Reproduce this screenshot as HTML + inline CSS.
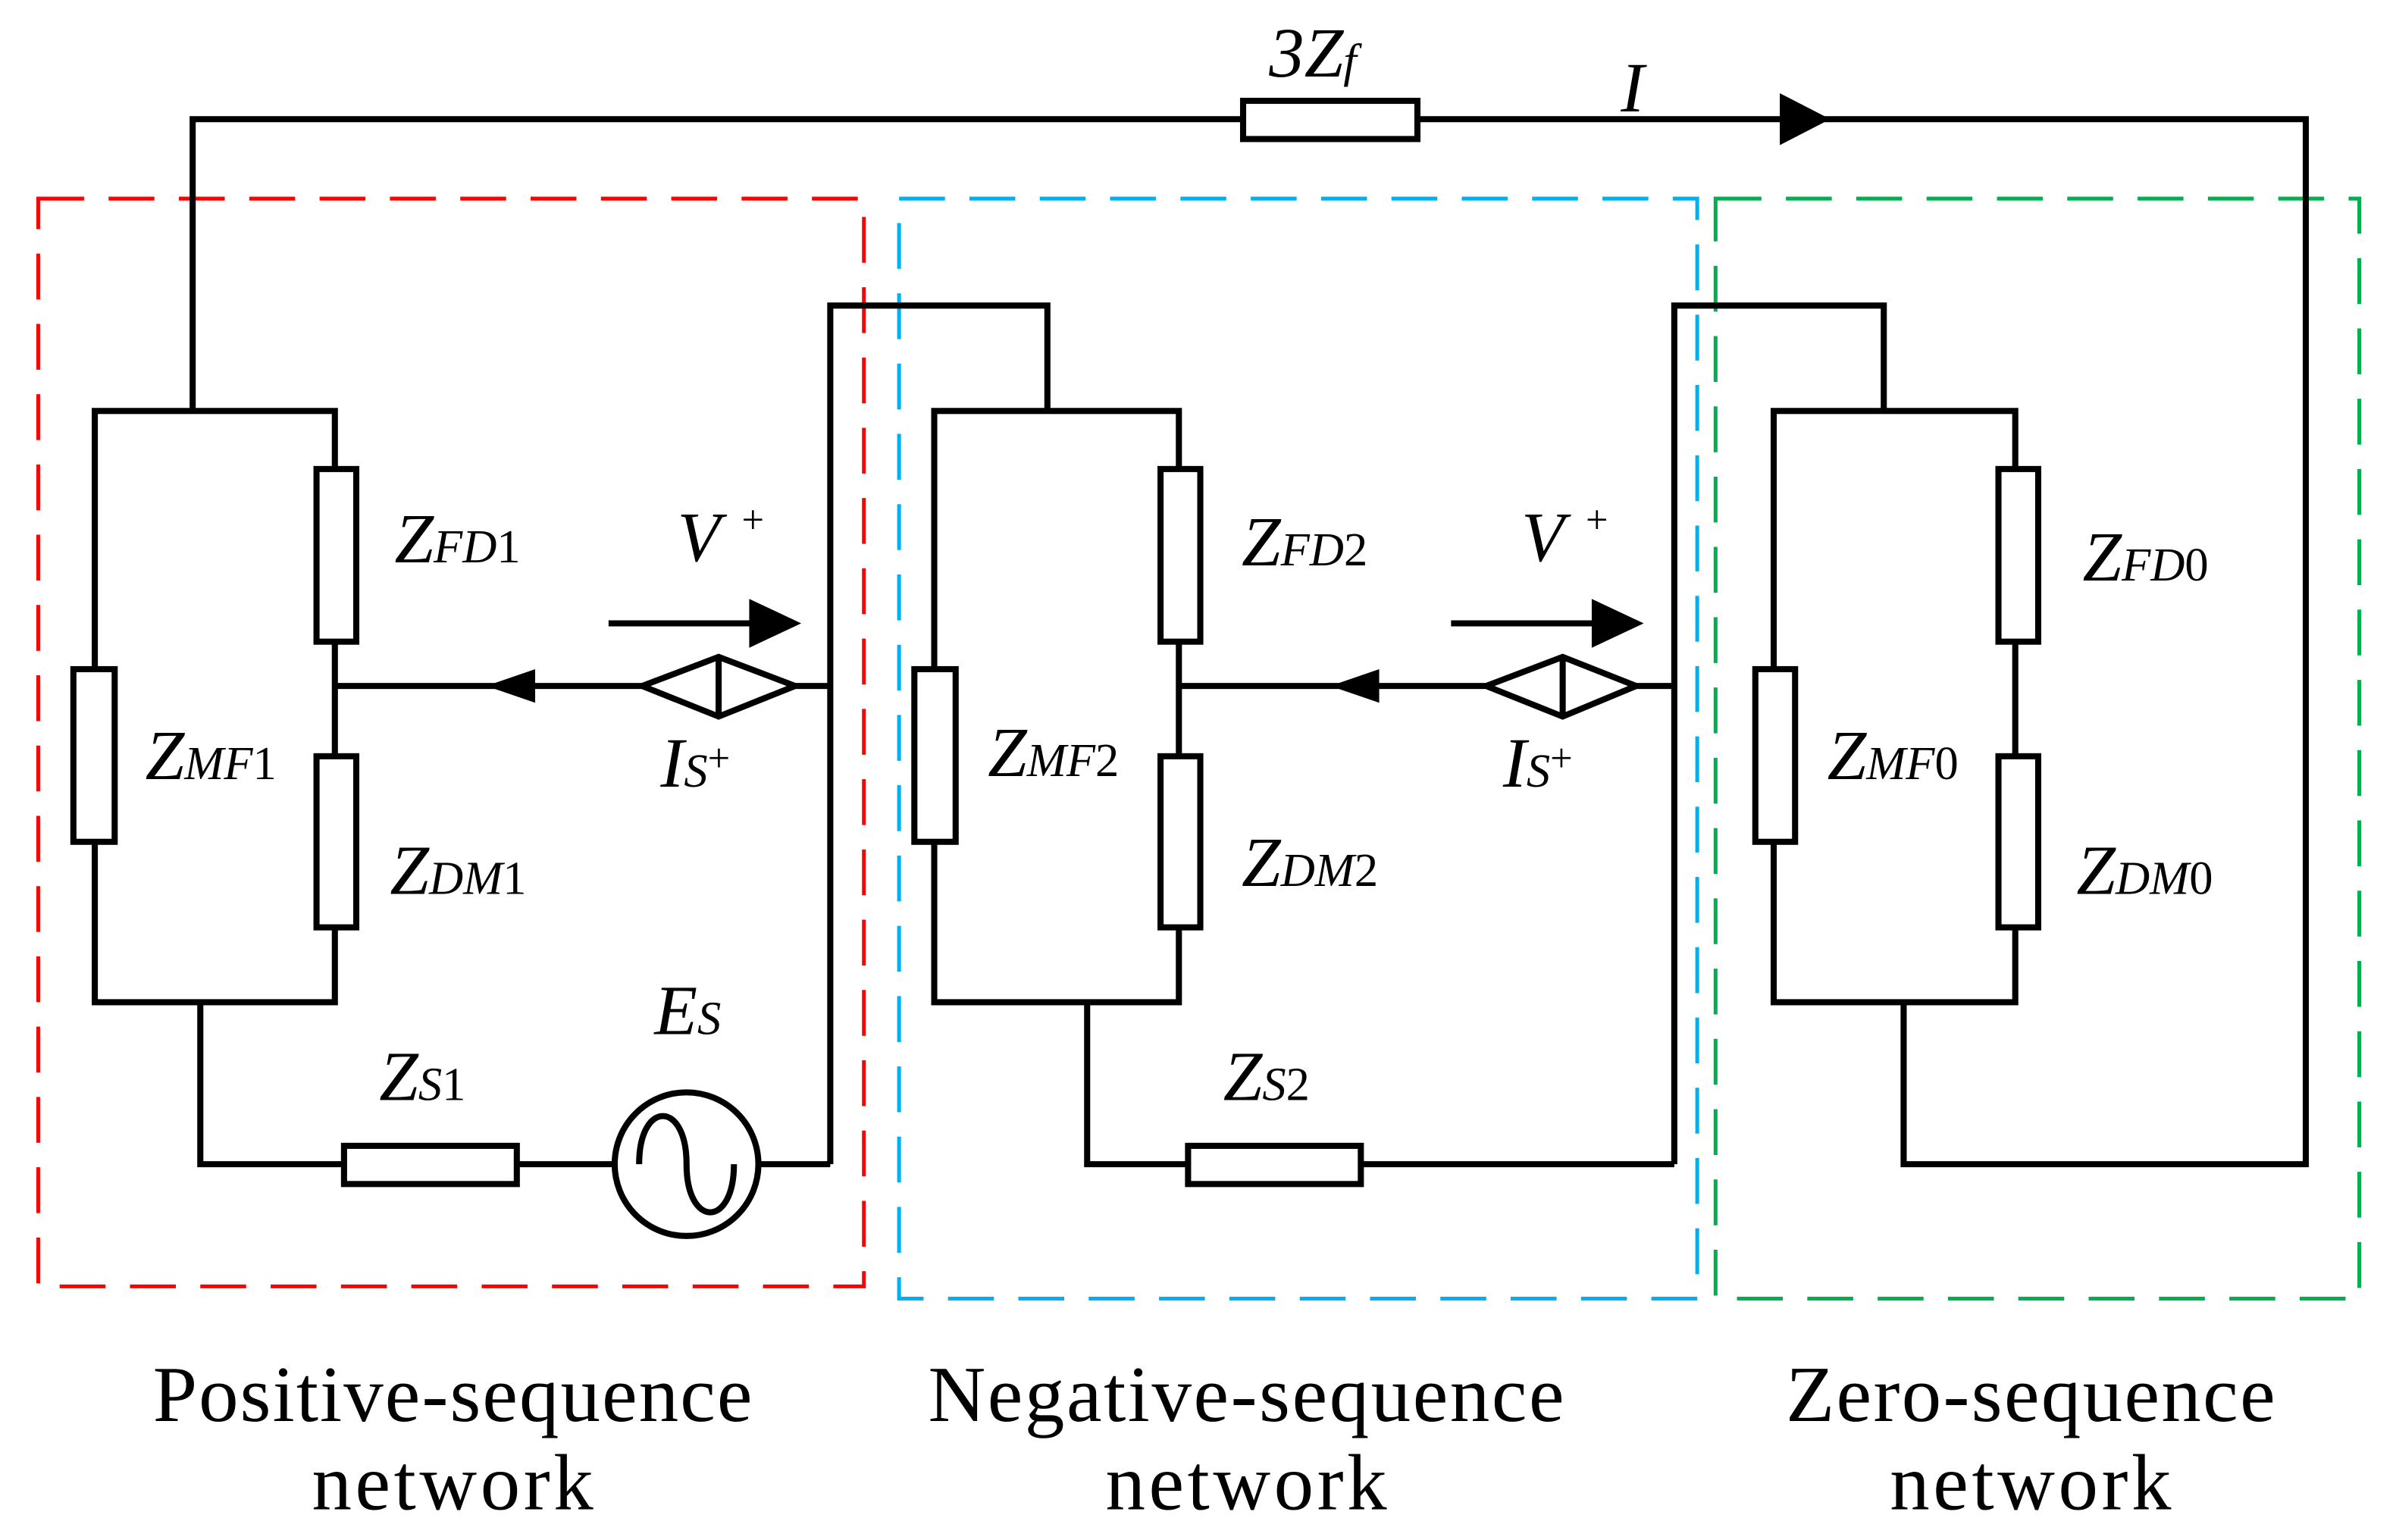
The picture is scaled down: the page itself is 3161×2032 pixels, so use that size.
<!DOCTYPE html>
<html><head><meta charset="utf-8"><style>html,body{margin:0;padding:0;background:#fff}svg{display:block}</style></head>
<body>
<svg width="3161" height="2032" viewBox="0 0 1567 1008" preserveAspectRatio="none" xmlns="http://www.w3.org/2000/svg">
<g fill="none" stroke-width="2.5">
<rect x="25" y="130" width="540" height="712" stroke="#ff0000" stroke-dasharray="30 16"/>
<rect x="588" y="130" width="522" height="720" stroke="#00b0f0" stroke-dasharray="30 16"/>
<rect x="1122" y="130" width="421" height="720" stroke="#00b050" stroke-dasharray="30 16"/>
</g>
<g fill="none" stroke="#000" stroke-width="4">
<polyline points="126,269 126,78 1508,78 1508,762 1245,762 1245,656"/>
<rect x="62" y="269" width="157" height="387"/>
<rect x="611" y="269" width="160" height="387"/>
<rect x="1160" y="269" width="158" height="387"/>
<line x1="219" y1="449" x2="543" y2="449"/>
<line x1="771" y1="449" x2="1095" y2="449"/>
<polyline points="543,762 543,200 685,200 685,269"/>
<polyline points="1095,762 1095,200 1232,200 1232,269"/>
<polyline points="131,656 131,762 543,762"/>
<polyline points="711,656 711,762 1095,762"/>
<line x1="398" y1="408" x2="495" y2="408"/>
<line x1="949" y1="408" x2="1045" y2="408"/>
</g>
<g fill="#fff" stroke="#000" stroke-width="4">
<rect x="813" y="66" width="114" height="25"/>
<rect x="48" y="438" width="27" height="113"/>
<rect x="207" y="307" width="26" height="113"/>
<rect x="207" y="495" width="26" height="112"/>
<rect x="598" y="438" width="27" height="113"/>
<rect x="759" y="307" width="26" height="113"/>
<rect x="759" y="495" width="26" height="112"/>
<rect x="1148" y="438" width="26" height="113"/>
<rect x="1307" y="307" width="26" height="113"/>
<rect x="1307" y="495" width="26" height="112"/>
<rect x="225" y="750" width="113" height="25"/>
<rect x="777" y="750" width="113" height="25"/>
<circle cx="449" cy="762" r="47"/>
<polygon points="420,449 470,430 520,449 470,469"/>
<polygon points="972,449 1022,430 1070,449 1022,469"/>
</g>
<g stroke="#000" stroke-width="4" fill="none">
<line x1="470" y1="430" x2="470" y2="469"/><line x1="1022" y1="430" x2="1022" y2="469"/>
<path d="M418,762 C418,720 449,720 449,762 C449,804 480,804 480,762"/>
</g>
<g fill="#000">
<polygon points="1197,78 1164,61 1164,95"/>
<polygon points="318,449 350,438 350,460"/>
<polygon points="870,449 902,438 902,460"/>
<polygon points="524,408 490,392 490,424"/>
<polygon points="1075,408 1041,392 1041,424"/>
</g>
<g font-family="Liberation Serif, serif" font-style="italic" font-size="46" fill="#000">
<text x="830" y="50">3Z<tspan font-size="31">f</tspan></text>
<text x="1060" y="73">I</text>
<text x="258" y="368">Z<tspan font-size="31">FD</tspan><tspan font-size="31" font-style="normal">1</tspan></text>
<text x="255" y="585">Z<tspan font-size="31">DM</tspan><tspan font-size="31" font-style="normal">1</tspan></text>
<text x="95" y="510">Z<tspan font-size="31">MF</tspan><tspan font-size="31" font-style="normal">1</tspan></text>
<text x="812" y="370">Z<tspan font-size="31">FD</tspan><tspan font-size="31" font-style="normal">2</tspan></text>
<text x="812" y="580">Z<tspan font-size="31">DM</tspan><tspan font-size="31" font-style="normal">2</tspan></text>
<text x="646" y="508">Z<tspan font-size="31">MF</tspan><tspan font-size="31" font-style="normal">2</tspan></text>
<text x="1362" y="380">Z<tspan font-size="31">FD</tspan><tspan font-size="31" font-style="normal">0</tspan></text>
<text x="1358" y="585">Z<tspan font-size="31">DM</tspan><tspan font-size="31" font-style="normal">0</tspan></text>
<text x="1195" y="510">Z<tspan font-size="31">MF</tspan><tspan font-size="31" font-style="normal">0</tspan></text>
<text x="248" y="720">Z<tspan font-size="31">S</tspan><tspan font-size="31" font-style="normal">1</tspan></text>
<text x="800" y="720">Z<tspan font-size="31">S</tspan><tspan font-size="31" font-style="normal">2</tspan></text>
<text x="428" y="677">E<tspan font-size="31">S</tspan></text>
<text x="443" y="367">V<tspan font-size="26" font-style="normal" dx="14" dy="-18">+</tspan></text>
<text x="995" y="367">V<tspan font-size="26" font-style="normal" dx="14" dy="-18">+</tspan></text>
<text x="432" y="515">I<tspan font-size="31">S</tspan><tspan font-size="26" font-style="normal" dy="-10">+</tspan></text>
<text x="983" y="515">I<tspan font-size="31">S</tspan><tspan font-size="26" font-style="normal" dy="-10">+</tspan></text>
</g>
<g font-family="Liberation Serif, serif" font-size="52" fill="#000" text-anchor="middle">
<text x="296" y="930" textLength="392">Positive-sequence</text>
<text x="296" y="988" textLength="184">network</text>
<text x="815" y="930" textLength="416">Negative-sequence</text>
<text x="815" y="988" textLength="184">network</text>
<text x="1328" y="930" textLength="320">Zero-sequence</text>
<text x="1328" y="988" textLength="184">network</text>
</g>
</svg>
</body></html>
